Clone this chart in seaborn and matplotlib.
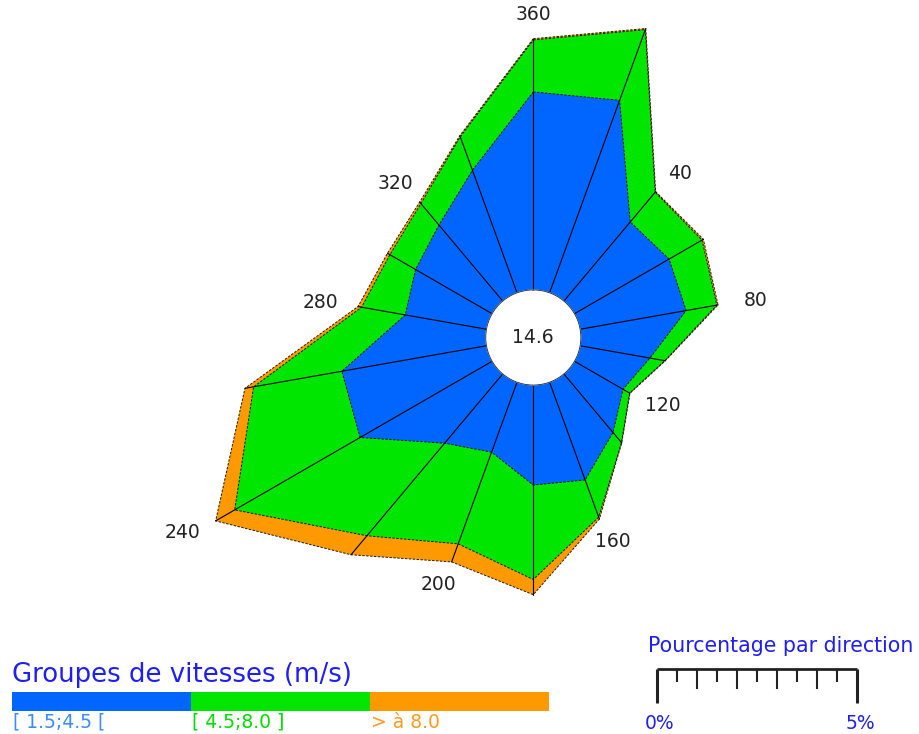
import numpy as np
import matplotlib
matplotlib.use("Agg")
import matplotlib.pyplot as plt
import seaborn as sns
from matplotlib.patches import Circle, Rectangle

# ---- data: share of observations (%) per direction and speed class ----
directions = [0, 20, 40, 60, 80, 100, 120, 140, 160,
              180, 200, 220, 240, 260, 280, 300, 320, 340]
pct_low = [4.94, 5.11, 2.57, 2.72, 2.68, 1.76, 1.39, 1.90, 2.59,
           2.49, 1.85, 2.25, 3.80, 3.66, 2.05, 2.20, 2.47, 3.25]
pct_mid = [1.30, 1.88, 0.97, 0.95, 0.78, 0.38, 0.19, 0.33, 0.99,
           2.36, 2.44, 3.02, 3.62, 2.24, 1.11, 0.74, 0.70, 0.89]
pct_high = [0.03, 0.03, 0.02, 0.04, 0.03, 0.01, 0.01, 0.01, 0.05,
            0.38, 0.48, 0.62, 0.55, 0.22, 0.09, 0.07, 0.05, 0.03]
calm_pct = 14.6
compass_labels = [360, 40, 80, 120, 160, 200, 240, 280, 320]
class_labels = ["[ 1.5;4.5 [", "[ 4.5;8.0 ]", "> à 8.0"]
class_colors = ["#0066ff", "#00e600", "#ff9900"]
class_text_colors = ["#3a8cff", "#00dd00", "#ff9a20"]
scale_labels = ["0%", "5%"]
scale_span_pct = 5

# ---- layout (pixels) ----
W, H, DPI = 919, 734, 100
CX, CY = 533.3, 337.5          # rose centre
PX_PER_PCT = 40.0               # radial scale
HOLE_PCT = 1.2                  # radius of the calm disc, in % units
RMAX = 9.5
TITLE_BLUE = "#1e1ef5"

sns.set_theme(style="white")
plt.rcParams["font.family"] = ["DejaVu Sans"]

fig = plt.figure(figsize=(W / DPI, H / DPI), dpi=DPI)

# polar axes sized so that 1 % == PX_PER_PCT pixels
R_px = (RMAX + HOLE_PCT) * PX_PER_PCT
ax = fig.add_axes([(CX - R_px) / W, (H - CY - R_px) / H, 2 * R_px / W, 2 * R_px / H],
                  projection="polar")
ax.set_theta_zero_location("N")
ax.set_theta_direction(-1)
ax.set_rorigin(-HOLE_PCT)
ax.set_ylim(0, RMAX)
ax.grid(False)
ax.set_xticks([])
ax.set_yticks([])
ax.spines["polar"].set_visible(False)
ax.patch.set_visible(False)

theta = np.deg2rad(directions)
cum1 = np.array(pct_low)
cum2 = cum1 + np.array(pct_mid)
cum3 = cum2 + np.array(pct_high)

def closed(a):
    return np.append(a, a[0])

th_c = closed(theta)
for cum, col, z in [(cum3, class_colors[2], 1), (cum2, class_colors[1], 2), (cum1, class_colors[0], 3)]:
    ax.fill(th_c, closed(cum), color=col, lw=0, zorder=z)
for cum in (cum3, cum2, cum1):
    ax.plot(th_c, closed(cum), color="#1a1a1a", lw=0.7, ls=(0, (2.5, 1.5)), zorder=4)

# radial spokes
for t, r in zip(theta, cum3):
    ax.plot([t, t], [0, r], color="black", lw=0.8, zorder=5)

# calm disc
hole_frac = 0.5 * HOLE_PCT / (RMAX + HOLE_PCT)
ax.add_patch(Circle((0.5, 0.5), hole_frac, transform=ax.transAxes,
                    facecolor="white", edgecolor="none", zorder=6))
ax.text(0.5, 0.5, f"{calm_pct:.1f}", transform=ax.transAxes, ha="center", va="center",
        fontsize=13.5, color="#222222", zorder=7)

# compass labels just outside the rose
for lab in compass_labels:
    d = lab % 360
    i = directions.index(d)
    a = np.deg2rad(d)
    dx_px, dy_px = 38 * np.sin(a), 24 * np.cos(a)
    ax.annotate(str(lab), xy=(theta[i], cum3[i]),
                xytext=(dx_px * 72 / DPI, dy_px * 72 / DPI), textcoords="offset points",
                ha="center", va="center", fontsize=13.5, color="#222222",
                annotation_clip=False, zorder=8)

# ---- legend and scale bar in a pixel-space overlay ----
lax = fig.add_axes([0, 0, 1, 1])
lax.set_xlim(0, W)
lax.set_ylim(H, 0)
lax.axis("off")
lax.patch.set_visible(False)

lax.text(12, 682, "Groupes de vitesses (m/s)", color=TITLE_BLUE, fontsize=18.7,
         ha="left", va="baseline")
seg_w, bar_x0, bar_y0, bar_h = 179, 12, 692, 19
for k, (lab, col, tcol) in enumerate(zip(class_labels, class_colors, class_text_colors)):
    x0 = bar_x0 + k * seg_w
    lax.add_patch(Rectangle((x0, bar_y0), seg_w, bar_h, facecolor=col, edgecolor="none"))
    lax.text(x0 + 1, 728, lab, color=tcol, fontsize=13.5, ha="left", va="baseline")

sx0, sy = 657, 669
span_px = scale_span_pct * PX_PER_PCT
lax.text(648, 652, "Pourcentage par direction", color=TITLE_BLUE, fontsize=14.8,
         ha="left", va="baseline")
lax.plot([sx0, sx0 + span_px], [sy, sy], color="#222222", lw=2, solid_capstyle="butt")
n_ticks = int(scale_span_pct * 2)
for j in range(n_ticks + 1):
    x = sx0 + j * span_px / n_ticks
    if j in (0, n_ticks):
        length, lw = 34, 2.2
    elif j % 2 == 0:
        length, lw = 20, 1.5
    else:
        length, lw = 13, 1.5
    lax.plot([x, x], [sy, sy + length], color="#222222", lw=lw, solid_capstyle="butt")
for x, lab in zip([sx0, sx0 + span_px], scale_labels):
    lax.text(x + 3, 729, lab, color=TITLE_BLUE, fontsize=13.5, ha="center", va="baseline")

fig.savefig("out.png", dpi=DPI, facecolor="white")
